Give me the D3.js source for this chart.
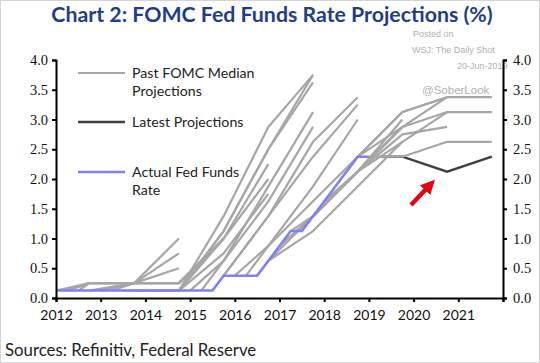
<!DOCTYPE html>
<html>
<head>
<meta charset="utf-8">
<script src="https://cdn.jsdelivr.net/npm/d3@7"></script>
<style>
  body { margin: 0; background: #fff; }
  svg { display: block; }
</style>
</head>
<body>
<div id="chart"></div>
<script>
// chart values
const yTicks = [0, 0.5, 1, 1.5, 2, 2.5, 3, 3.5, 4];
const yearLabels = [2012, 2013, 2014, 2015, 2016, 2017, 2018, 2019, 2020, 2021];

// actual fed funds rate (quarterly midpoints), starting 2012Q1
const actualStart = "2012Q1";
const actualRate = [
  0.125, 0.125, 0.125, 0.125,   // 2012
  0.125, 0.125, 0.125, 0.125,   // 2013
  0.125, 0.125, 0.125, 0.125,   // 2014
  0.125, 0.125, 0.125, 0.375,   // 2015
  0.375, 0.375, 0.375, 0.625,   // 2016
  0.875, 1.125, 1.125, 1.375,   // 2017
  1.625, 1.875, 2.125, 2.375,   // 2018
  2.375                         // 2019Q1
];

// past FOMC median projections: first value = rate at meeting quarter,
// then year-end medians at Q4 of each following year
const pastStart = ["2012Q1", "2012Q2", "2012Q2", "2012Q3", "2012Q4", "2013Q1", "2013Q2",
  "2013Q3", "2013Q4", "2014Q1", "2014Q2", "2014Q3", "2014Q4", "2015Q1", "2015Q2",
  "2015Q3", "2015Q4", "2016Q1", "2016Q2", "2016Q3", "2016Q4", "2017Q1", "2017Q2",
  "2017Q3", "2017Q4", "2018Q1", "2018Q2", "2018Q3", "2018Q4", "2019Q1"];
const pastValues = [
  [0.125, 0.25, 0.25, 0.75],
  [0.125, 0.25, 0.25, 1.0],
  [0.125, 0.25, 0.25, 0.5],
  [0.125, 0.25, 0.25, 0.25, 1.0],
  [0.125, 0.25, 0.25, 1.0],
  [0.125, 0.25, 0.25, 1.0],
  [0.125, 0.25, 0.25, 1.0],
  [0.125, 0.125, 0.125, 1.0, 2.0],
  [0.125, 0.125, 0.75, 1.75],
  [0.125, 0.125, 1.0, 2.25],
  [0.125, 0.125, 1.125, 2.5, 3.75],
  [0.125, 0.125, 1.375, 2.875, 3.75],
  [0.125, 1.125, 2.5, 3.625],
  [0.125, 0.625, 1.875, 3.125],
  [0.125, 0.625, 1.625, 2.875],
  [0.125, 0.375, 1.375, 2.625, 3.375],
  [0.375, 1.375, 2.375, 3.25],
  [0.375, 0.875, 1.875, 3.0],
  [0.375, 0.875, 1.625, 2.375],
  [0.375, 0.625, 1.125, 1.875, 2.625],
  [0.625, 1.375, 2.125, 2.875],
  [0.875, 1.375, 2.125, 3.0],
  [1.125, 1.375, 2.125, 2.875],
  [1.125, 1.375, 2.125, 2.75, 2.875],
  [1.375, 2.125, 2.625, 3.125],
  [1.625, 2.125, 2.875, 3.375],
  [1.875, 2.375, 3.125, 3.375],
  [2.125, 2.375, 3.125, 3.375, 3.375],
  [2.375, 2.875, 3.125, 3.125],
  [2.375, 2.375, 2.625, 2.625]
];

// latest projections (June 2019)
const latestStart = "2019Q2";
const latestValues = [2.375, 2.375, 2.125, 2.375];

const legendLabels = [["Past FOMC Median", "Projections"], ["Latest Projections"], ["Actual Fed Funds", "Rate"]];

// dimensions
const svgWidth = 540, svgHeight = 363;
const plot = { left: 56, right: 503, top: 60, bottom: 298 };

const colGrey = "#a6a6a6", colDark = "#404040", colBlue = "#7f80f6";
const sansFont = "Lato, 'Open Sans', sans-serif";
const serifFont = "'Liberation Serif', 'Times New Roman', 'DejaVu Serif', serif";

// quarter string -> decimal year position
function qPos(s) {
  const parts = s.split("Q");
  return +parts[0] + (+parts[1] - 1) / 4;
}

// build points for a projection path
function projectionPoints(start, values) {
  const s = qPos(start);
  let nextQ4 = Math.floor(s) + 0.75;
  if (nextQ4 <= s) nextQ4 += 1;
  return values.map((v, i) => ({ x: i === 0 ? s : nextQ4 + (i - 1), y: v }));
}

const x = d3.scaleLinear().domain([2012, 2022]).range([plot.left, plot.right]);
const y = d3.scaleLinear().domain([0, 4]).range([plot.bottom, plot.top]);

const svg = d3.select("#chart").append("svg")
  .attr("width", svgWidth)
  .attr("height", svgHeight);

// background + light frame
svg.append("rect")
  .attr("x", 0.5).attr("y", 0.5)
  .attr("width", svgWidth - 1).attr("height", svgHeight - 1)
  .attr("fill", "#fff").attr("stroke", "#d4d4d4");

// title
svg.append("text")
  .attr("x", 272).attr("y", 22)
  .attr("text-anchor", "middle")
  .style("font-family", sansFont)
  .attr("font-weight", "bold")
  .attr("font-size", 21.3)
  .attr("fill", "#1f3d8d")
  .text("Chart 2: FOMC Fed Funds Rate Projections (%)");

// watermark
const wm = svg.append("g").style("font-family", "Arial, 'Liberation Sans', sans-serif").attr("fill", "#b0b0b0");
wm.append("text").attr("x", 413).attr("y", 37).attr("font-size", 9).text("Posted on");
wm.append("text").attr("x", 412).attr("y", 53).attr("font-size", 9).text("WSJ: The Daily Shot");
wm.append("text").attr("x", 457).attr("y", 69).attr("font-size", 9).text("20-Jun-2019");
wm.append("text").attr("x", 422).attr("y", 94).attr("font-size", 11.5).text("@SoberLook");

const line = d3.line().x(d => x(d.x)).y(d => y(d.y));

// latest projection (under the greys so its start is covered)
svg.append("path")
  .datum(projectionPoints(latestStart, latestValues))
  .attr("d", line)
  .attr("fill", "none")
  .attr("stroke", colDark)
  .attr("stroke-width", 2.5);

// past projections
svg.append("g")
  .selectAll("path")
  .data(pastStart.map((s, i) => projectionPoints(s, pastValues[i])))
  .join("path")
  .attr("d", line)
  .attr("fill", "none")
  .attr("stroke", colGrey)
  .attr("stroke-width", 2.2)
  .attr("stroke-linejoin", "round");

// actual rate
const s0 = qPos(actualStart);
svg.append("path")
  .datum(actualRate.map((v, i) => ({ x: s0 + i / 4, y: v })))
  .attr("d", line)
  .attr("fill", "none")
  .attr("stroke", colBlue)
  .attr("stroke-width", 2.5);

// axes
const axisLeft = svg.append("g")
  .attr("transform", `translate(${plot.left},0)`)
  .call(d3.axisLeft(y).tickValues(yTicks).tickSize(4).tickFormat(d3.format(".1f")));
const axisRight = svg.append("g")
  .attr("transform", `translate(${plot.right},0)`)
  .call(d3.axisRight(y).tickValues(yTicks).tickSize(4).tickFormat(d3.format(".1f")));
const axisBottom = svg.append("g")
  .attr("transform", `translate(0,${plot.bottom})`)
  .call(d3.axisBottom(x).tickValues(yearLabels.concat([2022])).tickSize(4)
    .tickFormat(d => d === 2022 ? "" : d));

[axisLeft, axisRight, axisBottom].forEach(a => {
  a.attr("font-family", null).attr("font-size", null);
  a.select(".domain").attr("stroke", "#000").attr("stroke-width", 2);
  a.selectAll(".tick line").attr("stroke", "#000").attr("stroke-width", 2);
});
[axisLeft, axisRight].forEach(a => {
  a.selectAll(".tick text")
    .style("font-family", serifFont)
    .style("font-size", "14.5px")
    .attr("fill", "#111");
});
axisLeft.selectAll(".tick text").attr("x", -8);
axisRight.selectAll(".tick text").attr("x", 10);
axisBottom.selectAll(".tick text")
  .style("font-family", sansFont)
  .style("font-size", "14px")
  .attr("fill", "#111")
  .attr("y", 12);

// legend
const legendColors = [colGrey, colDark, colBlue];
const legendY = [73, 122, 172];
const legend = svg.append("g");
legendLabels.forEach((lines, i) => {
  legend.append("line")
    .attr("x1", 78).attr("x2", 125)
    .attr("y1", legendY[i]).attr("y2", legendY[i])
    .attr("stroke", legendColors[i])
    .attr("stroke-width", i === 0 ? 2.2 : 2.5);
  lines.forEach((t, j) => {
    legend.append("text")
      .attr("x", 132)
      .attr("y", legendY[i] + 5 + j * 18)
      .style("font-family", sansFont)
      .attr("font-size", 14.2)
      .attr("fill", "#222")
      .text(t);
  });
});

// red arrow
svg.append("defs").append("marker")
  .attr("id", "arrowhead")
  .attr("viewBox", "0 0 10 10")
  .attr("refX", 4).attr("refY", 5)
  .attr("markerWidth", 3.2).attr("markerHeight", 3.2)
  .attr("orient", "auto")
  .append("path")
  .attr("d", "M0,0 L10,5 L0,10 z")
  .attr("fill", "#e30613");
svg.append("line")
  .attr("x1", 411).attr("y1", 205)
  .attr("x2", 429).attr("y2", 186)
  .attr("stroke", "#e30613")
  .attr("stroke-width", 4.5)
  .attr("marker-end", "url(#arrowhead)");

// source
svg.append("text")
  .attr("x", 5).attr("y", 356)
  .style("font-family", sansFont)
  .attr("font-size", 16.8)
  .attr("fill", "#222")
  .text("Sources: Refinitiv, Federal Reserve");
</script>
</body>
</html>
